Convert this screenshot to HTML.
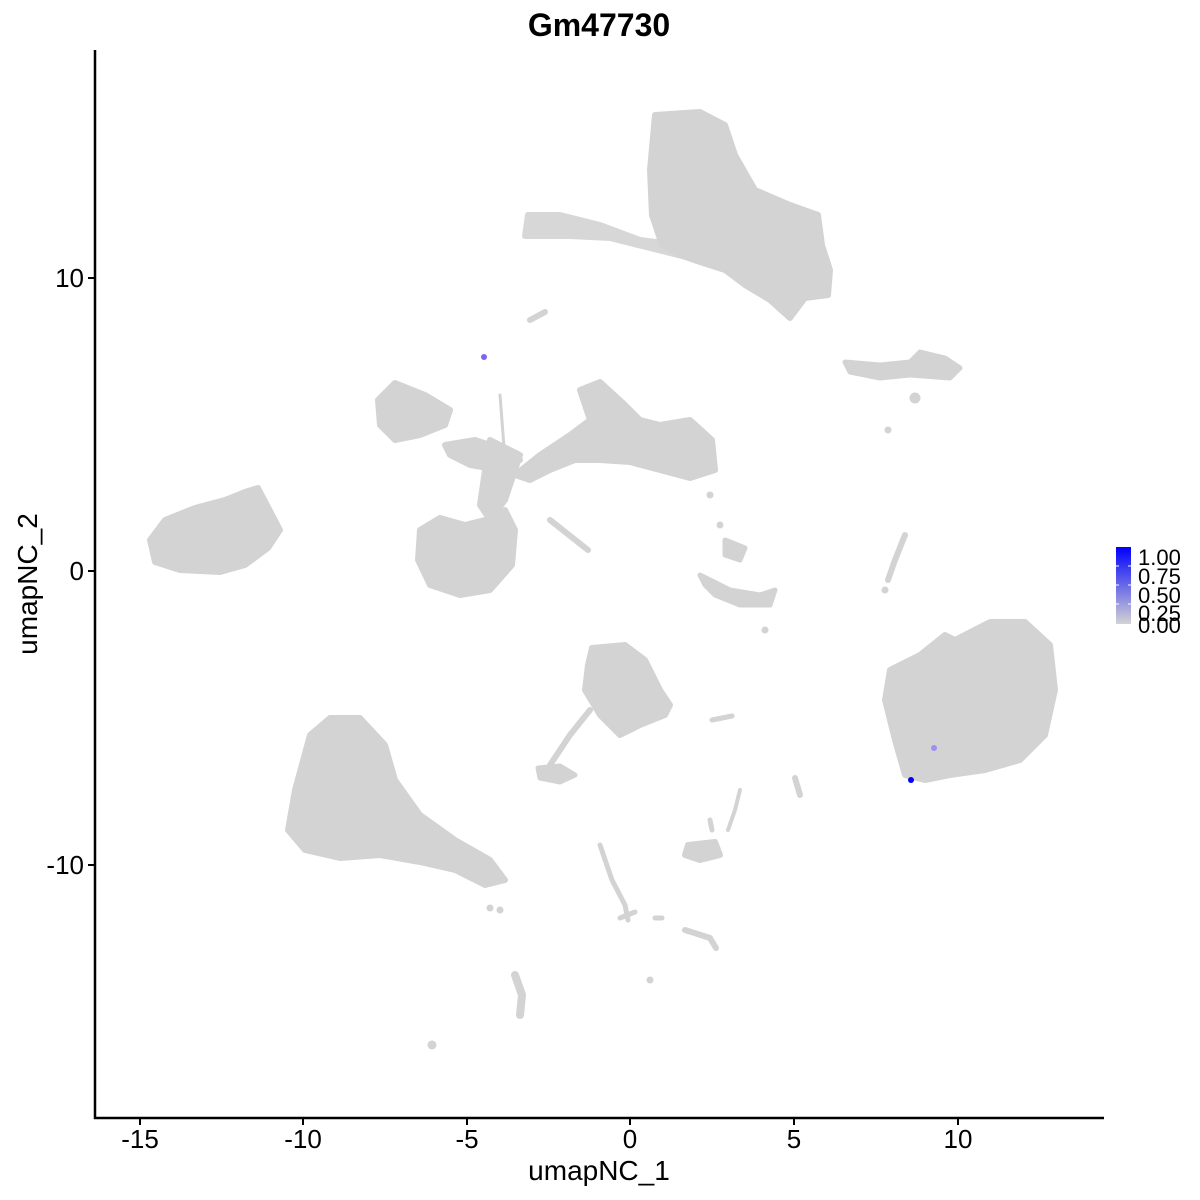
<!DOCTYPE html>
<html><head><style>
body{margin:0;background:#fff}
svg{display:block}
text{font-family:"Liberation Sans",sans-serif}
</style></head><body>
<svg width="1200" height="1200" viewBox="0 0 1200 1200" xmlns="http://www.w3.org/2000/svg">
<defs>
<linearGradient id="lg" x1="0" y1="1" x2="0" y2="0">
<stop offset="0" stop-color="#D3D3D3"/><stop offset="1" stop-color="#0000FF"/>
</linearGradient>
</defs>
<g fill="#D3D3D3" stroke="#D3D3D3" stroke-linejoin="round" stroke-linecap="round">
<path d="M655,115 L700,112 L725,125 L735,155 L755,190 L790,205 L818,215 L822,245 L830,270 L828,295 L805,298 L790,318 L770,300 L745,285 L725,270 L700,262 L680,255 L662,245 L652,215 L650,170 Z" stroke-width="6"/>
<path d="M528,215 L560,215 L600,225 L640,240 L680,245 L690,258 L650,248 L610,238 L570,236 L525,236 Z" stroke-width="6" opacity="0.9"/>
<path d="M530,320 L545,312" fill="none" stroke-width="6"/>
<path d="M845,362 L880,365 L910,362 L920,352 L945,358 L960,368 L950,378 L910,375 L880,378 L850,372 Z" stroke-width="5"/>
<circle cx="915" cy="398" r="5"/><circle cx="888" cy="430" r="3"/>
<path d="M150,540 L165,520 L195,508 L225,500 L245,492 L258,488 L280,530 L268,548 L245,565 L220,572 L180,570 L155,562 Z" stroke-width="6"/>
<path d="M378,400 L395,383 L425,395 L450,410 L445,425 L420,435 L395,440 L380,425 Z" stroke-width="6"/>
<path d="M445,445 L475,440 L505,450 L520,460 L500,470 L470,465 L450,455 Z" stroke-width="6"/>
<path d="M580,390 L600,382 L625,405 L640,420 L660,425 L690,420 L712,440 L715,470 L690,478 L660,470 L630,462 L600,460 L575,460 L550,470 L530,480 L515,475 L540,455 L570,435 L590,420 Z" stroke-width="6"/>
<path d="M490,440 L520,455 L505,500 L490,520 L480,505 L485,470 Z" stroke-width="6"/>
<path d="M420,530 L440,518 L465,525 L485,520 L505,510 L515,530 L512,565 L490,590 L460,595 L430,585 L418,560 Z" stroke-width="6"/>
<path d="M550,520 L588,550" fill="none" stroke-width="6"/>
<path d="M500,395 L505,460" fill="none" stroke-width="3"/>
<path d="M725,540 L745,548 L740,560 L725,555 Z" stroke-width="5"/>
<path d="M700,575 L730,590 L760,595 L775,590 L770,605 L740,605 L715,595 L705,585 Z" stroke-width="5"/>
<path d="M905,535 L895,560 L888,580" fill="none" stroke-width="6"/>
<circle cx="720" cy="525" r="3"/><circle cx="885" cy="590" r="3"/><circle cx="765" cy="630" r="3"/>
<path d="M955,640 L990,622 L1025,622 L1050,645 L1055,690 L1045,735 L1020,760 L985,770 L950,775 L925,780 L905,775 L895,740 L885,700 L890,670 L920,655 L945,635 Z" stroke-width="6"/>
<path d="M592,648 L625,645 L645,660 L660,690 L670,705 L665,715 L640,725 L620,735 L600,715 L585,690 L588,665 Z" stroke-width="6"/>
<path d="M590,710 L570,735 L550,765" fill="none" stroke-width="6"/>
<path d="M538,768 L560,766 L575,775 L560,782 L540,778 Z" stroke-width="5"/>
<path d="M712,720 L732,716" fill="none" stroke-width="5"/>
<path d="M795,778 L800,795" fill="none" stroke-width="6"/>
<path d="M740,790 L735,810 L728,830" fill="none" stroke-width="4"/>
<path d="M710,820 L712,830" fill="none" stroke-width="5"/>
<path d="M688,845 L715,842 L720,855 L700,860 L685,855 Z" stroke-width="6"/>
<path d="M310,735 L330,718 L360,718 L385,745 L395,780 L420,815 L455,840 L490,860 L505,880 L485,885 L455,870 L420,862 L380,855 L340,858 L305,850 L288,830 L295,790 Z" stroke-width="6"/>
<circle cx="490" cy="908" r="3"/><circle cx="500" cy="910" r="3"/>
<path d="M600,845 L612,880 L625,905 L628,920" fill="none" stroke-width="5"/>
<path d="M620,918 L635,912" fill="none" stroke-width="5"/>
<path d="M655,918 L662,918" fill="none" stroke-width="5"/>
<path d="M685,930 L710,938 L716,948" fill="none" stroke-width="6"/>
<path d="M515,975 L522,995 L520,1015" fill="none" stroke-width="8"/>
<circle cx="650" cy="980" r="3"/><circle cx="432" cy="1045" r="4"/>
<circle cx="710" cy="495" r="3"/>
</g>
<circle cx="484" cy="357" r="3" fill="#7A66F5"/>
<circle cx="934" cy="748" r="3" fill="#9E8FF0"/>
<circle cx="911" cy="780" r="3" fill="#0000FF"/>
<g stroke="#000" stroke-width="2.5">
<line x1="95" y1="50" x2="95" y2="1119"/>
<line x1="94" y1="1118" x2="1104" y2="1118"/>
</g>
<g stroke="#000" stroke-width="2">
<line x1="140" y1="1118" x2="140" y2="1125"/><line x1="303" y1="1118" x2="303" y2="1125"/>
<line x1="467" y1="1118" x2="467" y2="1125"/><line x1="630" y1="1118" x2="630" y2="1125"/>
<line x1="794" y1="1118" x2="794" y2="1125"/><line x1="958" y1="1118" x2="958" y2="1125"/>
<line x1="88" y1="278" x2="95" y2="278"/><line x1="88" y1="571" x2="95" y2="571"/><line x1="88" y1="865" x2="95" y2="865"/>
</g>
<g font-size="26" fill="#000" text-anchor="middle">
<text x="140" y="1148">-15</text><text x="303" y="1148">-10</text><text x="467" y="1148">-5</text>
<text x="630" y="1148">0</text><text x="794" y="1148">5</text><text x="958" y="1148">10</text>
</g>
<g font-size="26" fill="#000" text-anchor="end">
<text x="84" y="287">10</text><text x="84" y="580">0</text><text x="84" y="874">-10</text>
</g>
<text x="599" y="1180" font-size="28" text-anchor="middle">umapNC_1</text>
<text transform="translate(37,584) rotate(-90)" font-size="28" text-anchor="middle">umapNC_2</text>
<text x="599" y="36" font-size="32" font-weight="bold" text-anchor="middle">Gm47730</text>
<rect x="1116" y="547" width="15" height="77" fill="url(#lg)"/>
<g stroke="#fff" stroke-width="1">
<line x1="1116" y1="566" x2="1119" y2="566"/><line x1="1128" y1="566" x2="1131" y2="566"/>
<line x1="1116" y1="585" x2="1119" y2="585"/><line x1="1128" y1="585" x2="1131" y2="585"/>
<line x1="1116" y1="604" x2="1119" y2="604"/><line x1="1128" y1="604" x2="1131" y2="604"/>
</g>
<g font-size="22" fill="#000">
<text x="1138" y="565">1.00</text><text x="1138" y="584">0.75</text><text x="1138" y="603">0.50</text>
<text x="1138" y="621">0.25</text><text x="1138" y="633">0.00</text>
</g>
</svg>
</body></html>
